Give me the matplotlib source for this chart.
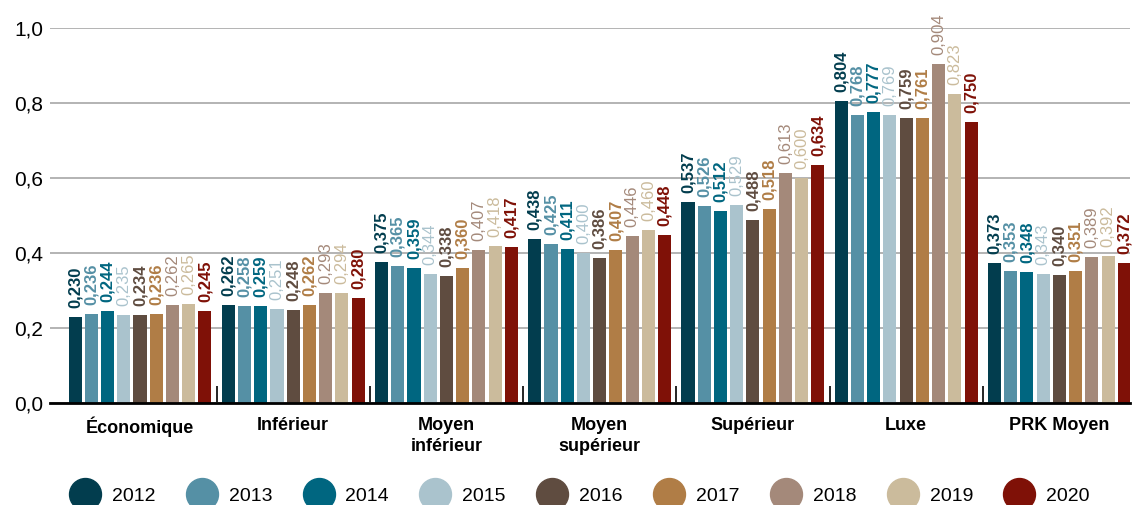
import numpy as np
import matplotlib
matplotlib.use("Agg")
import matplotlib.pyplot as plt
from matplotlib.lines import Line2D

plt.rcParams["font.family"] = ["Liberation Sans", "DejaVu Sans"]

categories = ["Économique", "Inférieur", "Moyen\ninférieur", "Moyen\nsupérieur",
              "Supérieur", "Luxe", "PRK Moyen"]
years = ["2012", "2013", "2014", "2015", "2016", "2017", "2018", "2019", "2020"]

v2012 = [0.230, 0.262, 0.375, 0.438, 0.537, 0.804, 0.373]
v2013 = [0.236, 0.258, 0.365, 0.425, 0.526, 0.768, 0.353]
v2014 = [0.244, 0.259, 0.359, 0.411, 0.512, 0.777, 0.348]
v2015 = [0.235, 0.251, 0.344, 0.400, 0.529, 0.769, 0.343]
v2016 = [0.234, 0.248, 0.338, 0.386, 0.488, 0.759, 0.340]
v2017 = [0.236, 0.262, 0.360, 0.407, 0.518, 0.761, 0.351]
v2018 = [0.262, 0.293, 0.407, 0.446, 0.613, 0.904, 0.389]
v2019 = [0.265, 0.294, 0.418, 0.460, 0.600, 0.823, 0.392]
v2020 = [0.245, 0.280, 0.417, 0.448, 0.634, 0.750, 0.372]
series = [v2012, v2013, v2014, v2015, v2016, v2017, v2018, v2019, v2020]

colors = ["#023d4e", "#5590a5", "#006680", "#aac3cd", "#5f4c40",
          "#b07d46", "#a4897a", "#cbbb9c", "#7f1107"]
bold_label = [True, True, True, False, True, True, False, False, True]

fig = plt.figure(figsize=(11.32, 5.05), dpi=100)
ax = fig.add_axes([0.0442, 0.202, 0.954, 0.7426])

x = np.arange(len(categories))
step = 0.106
width = 0.085
n = len(series)

for i, (vals, col) in enumerate(zip(series, colors)):
    pos = x + (i - (n - 1) / 2) * step
    ax.bar(pos, vals, width=width, color=col, zorder=3)
    for px, v in zip(pos, vals):
        ax.annotate(f"{v:.3f}".replace(".", ","), (px, v), xytext=(0, 6.5),
                    textcoords="offset points", rotation=90, ha="center",
                    va="bottom", fontsize=12, color=col,
                    fontweight="bold" if bold_label[i] else "normal",
                    annotation_clip=False, zorder=4)

ax.set_ylim(0, 1.0)
ax.set_xlim(-0.587, 6.46)
ax.set_yticks(np.arange(0, 1.01, 0.2))
ax.set_yticklabels([f"{t:.1f}".replace(".", ",") for t in np.arange(0, 1.01, 0.2)],
                   fontsize=15)
ax.yaxis.grid(True, color="#b3b3b3", linewidth=1.4, zorder=0)
ax.set_axisbelow(True)
ax.tick_params(axis="y", length=0, pad=5)

ax.set_xticks(x)
ax.set_xticklabels(categories, fontsize=13, fontweight="bold", va="top",
                   linespacing=1.35)
ax.tick_params(axis="x", which="major", length=0, pad=10)
ax.set_xticks(x[:-1] + 0.5, minor=True)
ax.tick_params(axis="x", which="minor", direction="in", length=12,
               width=1.2, color="black")

for s in ["top", "right", "left"]:
    ax.spines[s].set_visible(False)
ax.spines["bottom"].set_linewidth(2)
ax.spines["bottom"].set_zorder(5)

handles = [Line2D([], [], marker="o", linestyle="none", markersize=23,
                  markerfacecolor=c, markeredgecolor=c) for c in colors]
fig.legend(handles, years, loc="center", bbox_to_anchor=(0.5117, 0.018),
           ncol=9, frameon=False, fontsize=14, handlelength=1.67,
           handletextpad=0.55, columnspacing=1.55, borderpad=0)

fig.savefig("out.png", dpi=100)
